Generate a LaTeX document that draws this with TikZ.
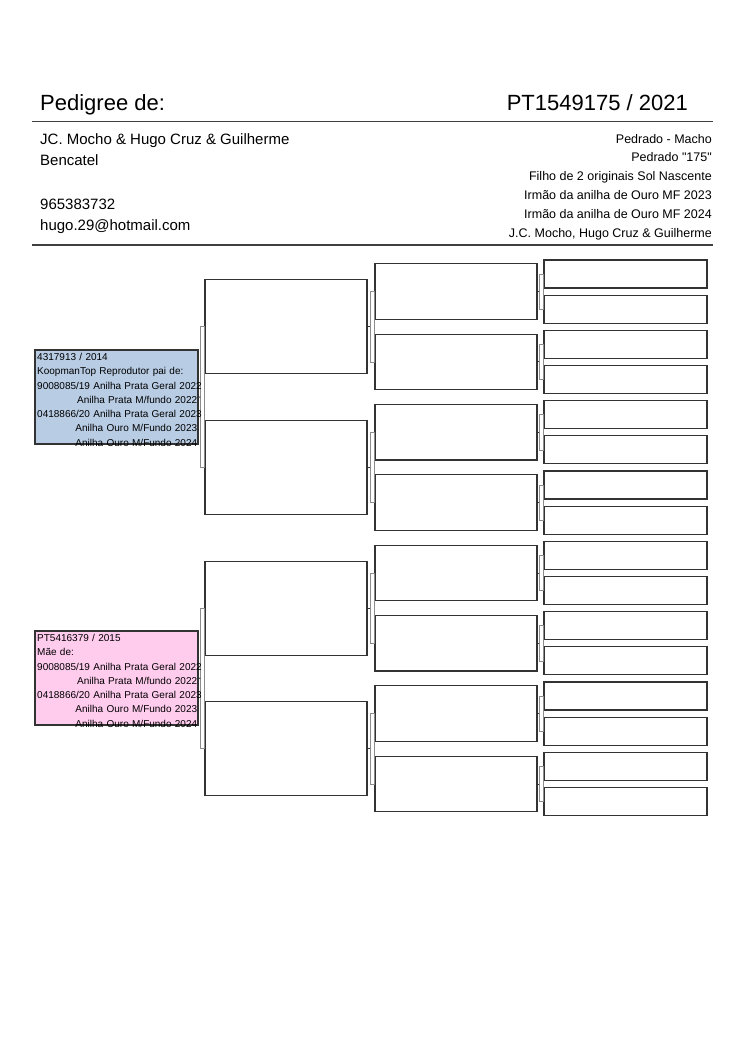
\documentclass[tikz,border=0pt]{standalone}
\usepackage{fontspec}
\setmainfont{Liberation Sans}
\newfontfamily\plainfont{Liberation Sans}
\usetikzlibrary{calc}

\definecolor{sireblue}{HTML}{B8CCE4}
\definecolor{dampink}{HTML}{FFCCEE}
\definecolor{rulegray}{HTML}{404040}
\newcommand{\toright}{\hspace*{0pt plus 1filll}}

\begin{document}
\begin{tikzpicture}[x=1pt,y=-1pt,
    box/.style={rectangle,draw=black!80,line width=1.2pt,inner sep=0pt},
    bracket/.style={draw=black!45,line width=0.7pt},
    tick/.style={draw=black!80,line width=0.9pt},
    info/.style={align=left,text width=160pt,inner sep=0pt,anchor=north west,font=\fontsize{10}{14.3}\selectfont},
    head/.style={inner sep=0pt,font=\fontsize{22}{26}\selectfont},
    owner/.style={anchor=base west,inner sep=0pt,font=\fontsize{15}{18}\selectfont},
    descr/.style={anchor=base east,inner sep=0pt,font=\fontsize{12.5}{15}\selectfont}]
    \useasboundingbox (0,0) rectangle (750,1060);

    % Header
    \node[head,anchor=base west] (title) at (40,110) {Pedigree de:};
    \node[head,anchor=base east] (ring) at (688,110) {PT1549175 / 2021};
    \draw[rulegray,line width=1.6pt] (32,121.5) -- (713,121.5);

    % Owner
    \node[owner] (owner1) at (40,144) {JC. Mocho \& Hugo Cruz \& Guilherme};
    \node[owner] (owner2) at (40,165.5) {Bencatel};
    \node[owner] (phone) at (40,209) {965383732};
    \node[owner] (email) at (40,230.5) {hugo.29@hotmail.com};

    % Description
    \foreach \txt [count=\k] in {Pedrado - Macho, {\plainfont Pedrado "175"}, Filho de 2 originais Sol Nascente,
        Irmão da anilha de Ouro MF 2023, Irmão da anilha de Ouro MF 2024, {J.C. Mocho, Hugo Cruz \& Guilherme}}
        \node[descr] (descr\k) at (712,{143+18.8*(\k-1)}) {\txt};
    \draw[rulegray,line width=1.6pt] (32,245) -- (713,245);

    % Parents
    \node[box,fill=sireblue,minimum width=163pt,minimum height=94pt] (sire) at (116.5,397) {};
    \node[box,fill=dampink,minimum width=163pt,minimum height=94pt] (dam) at (116.5,678) {};

    % Grandparents
    \foreach \i in {1,...,4}
        \node[box,minimum width=162pt,minimum height=94pt] (gp\i) at (286,{274+35.17*(4*\i-2.5)}) {};

    % Great-grandparents
    \foreach \i in {1,...,8}
        \node[box,minimum width=162pt,minimum height=55.5pt] (ggp\i) at (456,{274+35.17*(2*\i-1.5)}) {};

    % Great-great-grandparents
    \foreach \i in {1,...,16}
        \node[box,minimum width=163pt,minimum height=28pt] (gggp\i) at (625.5,{274+35.17*(\i-1)}) {};

    % Connectors
    \draw[bracket] ($(gp1.west)+(-4,0)$) rectangle (gp2.west);
    \draw[tick] (sire.east) -- ($(gp1.west)!.5!(gp2.west)+(-4,0)$);
    \draw[bracket] ($(gp3.west)+(-4,0)$) rectangle (gp4.west);
    \draw[tick] (dam.east) -- ($(gp3.west)!.5!(gp4.west)+(-4,0)$);
    \foreach \i [evaluate=\i as \a using int(2*\i-1), evaluate=\i as \b using int(2*\i)] in {1,...,4} {
        \draw[bracket] ($(ggp\a.west)+(-4,0)$) rectangle (ggp\b.west);
        \draw[tick] (gp\i.east) -- ($(ggp\a.west)!.5!(ggp\b.west)+(-4,0)$);
    }
    \foreach \i [evaluate=\i as \a using int(2*\i-1), evaluate=\i as \b using int(2*\i)] in {1,...,8} {
        \draw[bracket] ($(gggp\a.west)+(-4,0)$) rectangle (gggp\b.west);
        \draw[tick] (ggp\i.east) -- ($(gggp\a.west)!.5!(gggp\b.west)+(-4,0)$);
    }

    % Parent details
    \node[info] (sireinfo) at (37,353) {4317913 / 2014\\
        KoopmanTop Reprodutor pai de:\\
        \mbox{9008085/19 Anilha Prata Geral 2022}\\
        \toright Anilha Prata M/fundo 2022\\
        \mbox{0418866/20 Anilha Prata Geral 2023}\\
        \toright Anilha Ouro M/Fundo 2023\\
        \toright Anilha Ouro M/Fundo 2024};
    \node[info] (daminfo) at (37,634) {PT5416379 / 2015\\
        Mãe de:\\
        \mbox{9008085/19 Anilha Prata Geral 2022}\\
        \toright Anilha Prata M/fundo 2022\\
        \mbox{0418866/20 Anilha Prata Geral 2023}\\
        \toright Anilha Ouro M/Fundo 2023\\
        \toright Anilha Ouro M/Fundo 2024};
\end{tikzpicture}
\end{document}
